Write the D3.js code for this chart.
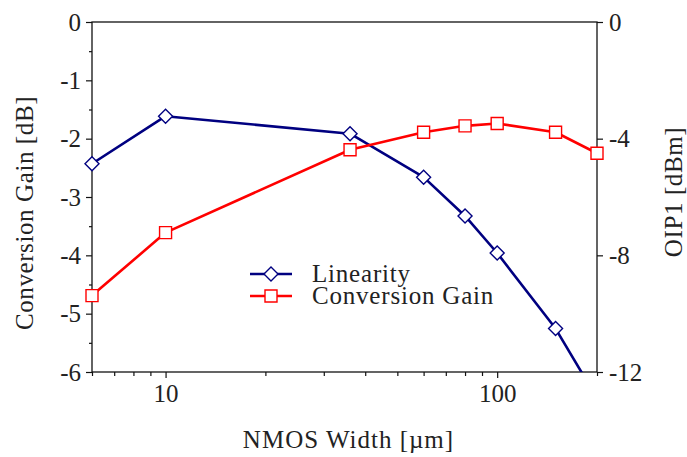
<!DOCTYPE html>
<html>
<head>
<meta charset="UTF-8">
<title>NMOS Width sweep</title>
<script src="https://d3js.org/d3.v7.min.js"></script>
<style>
  body { margin: 0; background: #fff; }
  text { font-family: "Liberation Serif", "DejaVu Serif", serif; fill: #222; }
</style>
</head>
<body>
<div id="chart"></div>
<script>
// NMOS width in um
const widths = [6, 10, 36, 60, 80, 100, 150, 200];
// Conversion gain [dB] (left axis)
const convGain = [-4.69, -3.61, -2.19, -1.89, -1.78, -1.74, -1.89, -2.25];
// Linearity, OIP1 [dBm] (right axis)
const oip1 = [-4.86, -3.23, -3.83, -5.32, -6.65, -7.92, -10.51, -12.9];

const leftTicks = [0, -1, -2, -3, -4, -5, -6];
const rightTicks = [0, -4, -8, -12];
const xTickLabels = [10, 100];

const W = 687, H = 457;
const margin = { top: 22, right: 90, bottom: 85, left: 92 };
const width = W - margin.left - margin.right;
const height = H - margin.top - margin.bottom;

const svg = d3.select("#chart").append("svg")
  .attr("width", W).attr("height", H);
const g = svg.append("g").attr("transform", `translate(${margin.left},${margin.top})`);

const x = d3.scaleLog().domain([6, 200]).range([0, width]);
const yL = d3.scaleLinear().domain([-6, 0]).range([height, 0]);
const yR = d3.scaleLinear().domain([-12, 0]).range([height, 0]);

const fs = 25;

// x axis, major + minor ticks
const minorX = [6, 7, 8, 9, 20, 30, 40, 50, 60, 70, 80, 90, 200];
const xAxis = g.append("g").attr("transform", `translate(0,${height})`);
xAxis.call(d3.axisBottom(x).tickValues(minorX).tickSize(4).tickFormat(""));
xAxis.call(g2 => g2.select(".domain").remove());
const xMaj = g.append("g").attr("transform", `translate(0,${height})`)
  .call(d3.axisBottom(x).tickValues(xTickLabels).tickSize(6).tickPadding(6).tickFormat(d3.format("d")));
xMaj.select(".domain").remove();
xMaj.selectAll("text").style("font-size", fs + "px").attr("fill", "#222");

// left axis
const minorL = d3.range(-5.5, 0, 1);
g.append("g").call(d3.axisLeft(yL).tickValues(minorL).tickSize(3).tickFormat(""))
  .select(".domain").remove();
const lAx = g.append("g").call(d3.axisLeft(yL).tickValues(leftTicks).tickSize(6).tickPadding(5).tickFormat(d => d));
lAx.select(".domain").remove();
lAx.selectAll("text").style("font-size", fs + "px").attr("fill", "#222");

// right axis
const rAx = g.append("g").attr("transform", `translate(${width},0)`)
  .call(d3.axisRight(yR).tickValues(rightTicks).tickSize(6).tickPadding(6).tickFormat(d => d));
rAx.select(".domain").remove();
rAx.selectAll("text").style("font-size", fs + "px").attr("fill", "#222");

g.selectAll(".tick line").attr("stroke", "#111").attr("stroke-width", 1.2);

// frame
g.append("rect").attr("width", width).attr("height", height)
  .attr("fill", "none").attr("stroke", "#111").attr("stroke-width", 1.3);

// clip for the lines only
g.append("clipPath").attr("id", "clip")
  .append("rect").attr("width", width).attr("height", height);
const plot = g.append("g").attr("clip-path", "url(#clip)");
const marks = g.append("g");

const series = [
  { name: "Linearity", vals: oip1, y: yR, color: "#000080", marker: "diamond" },
  { name: "Conversion Gain", vals: convGain, y: yL, color: "#ff0000", marker: "square" }
];

const diamond = "M0,-7L7,0L0,7L-7,0Z";
const square = "M-6,-6H6V6H-6Z";

series.forEach(s => {
  const pts = widths.map((w, i) => [x(w), s.y(s.vals[i])]);
  plot.append("path")
    .attr("d", d3.line()(pts))
    .attr("fill", "none").attr("stroke", s.color).attr("stroke-width", 2.6)
    .attr("stroke-linejoin", "round");
  marks.selectAll(null).data(pts.filter(d => d[1] <= height)).enter().append("path")
    .attr("transform", d => `translate(${d[0]},${d[1]})`)
    .attr("d", s.marker === "diamond" ? diamond : square)
    .attr("fill", "white").attr("stroke", s.color).attr("stroke-width", 1.4);
});

// legend
const legend = g.append("g").attr("transform", `translate(${250 - margin.left},${274 - margin.top})`);
series.forEach((s, i) => {
  const ly = i * 22;
  legend.append("line").attr("x1", 0).attr("x2", 42).attr("y1", ly).attr("y2", ly)
    .attr("stroke", s.color).attr("stroke-width", 2.6);
  legend.append("path").attr("transform", `translate(21,${ly})`)
    .attr("d", s.marker === "diamond" ? diamond : square)
    .attr("fill", "white").attr("stroke", s.color).attr("stroke-width", 1.4);
  legend.append("text").attr("x", 62).attr("y", ly + 8)
    .style("font-size", fs + "px").style("letter-spacing", "0.8px").text(s.name);
});

// axis titles
svg.append("text").attr("x", margin.left + width / 2 + 4).attr("y", 448)
  .attr("text-anchor", "middle").style("font-size", fs + "px").style("letter-spacing", "1px")
  .text("NMOS Width [µm]");
svg.append("text").attr("transform", `translate(33,${margin.top + height / 2 + 16}) rotate(-90)`)
  .attr("text-anchor", "middle").style("font-size", fs + "px").style("letter-spacing", "0.6px")
  .text("Conversion Gain [dB]");
svg.append("text").attr("transform", `translate(682,${margin.top + height / 2 - 5}) rotate(-90)`)
  .attr("text-anchor", "middle").style("font-size", fs + "px").style("letter-spacing", "0.6px")
  .text("OIP1 [dBm]");
</script>
</body>
</html>
